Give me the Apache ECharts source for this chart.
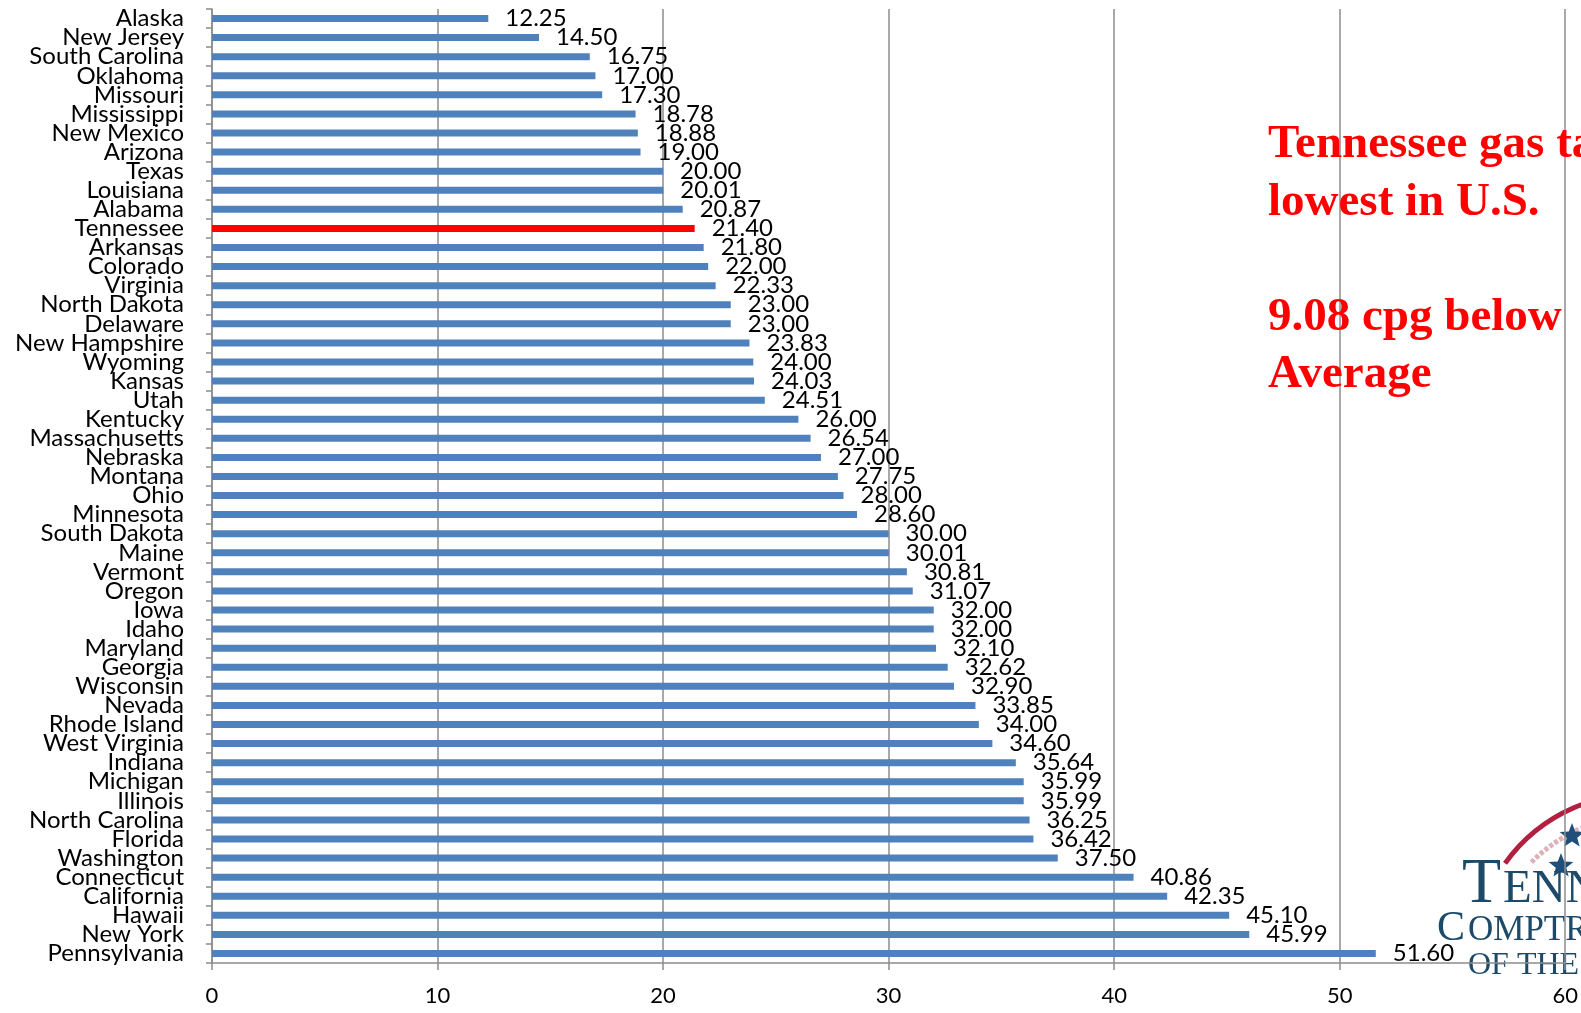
<!DOCTYPE html>
<html>
<head>
<meta charset="utf-8">
<title>State Gas Tax Rates</title>
<script src="https://cdn.jsdelivr.net/npm/echarts@6/dist/echarts.min.js"></script>
<style>
  html, body { margin: 0; padding: 0; background: #fff; }
  #chart { width: 1581px; height: 1013px; }
</style>
</head>
<body>
<div id="chart"></div>
<script>
// State gasoline tax, cents per gallon
const states = [
  'Alaska', 'New Jersey', 'South Carolina', 'Oklahoma', 'Missouri', 'Mississippi',
  'New Mexico', 'Arizona', 'Texas', 'Louisiana', 'Alabama', 'Tennessee', 'Arkansas',
  'Colorado', 'Virginia', 'North Dakota', 'Delaware', 'New Hampshire', 'Wyoming',
  'Kansas', 'Utah', 'Kentucky', 'Massachusetts', 'Nebraska', 'Montana', 'Ohio',
  'Minnesota', 'South Dakota', 'Maine', 'Vermont', 'Oregon', 'Iowa', 'Idaho',
  'Maryland', 'Georgia', 'Wisconsin', 'Nevada', 'Rhode Island', 'West Virginia',
  'Indiana', 'Michigan', 'Illinois', 'North Carolina', 'Florida', 'Washington',
  'Connecticut', 'California', 'Hawaii', 'New York', 'Pennsylvania'
];
const taxRates = [
  12.25, 14.50, 16.75, 17.00, 17.30, 18.78,
  18.88, 19.00, 20.00, 20.01, 20.87, 21.40, 21.80,
  22.00, 22.33, 23.00, 23.00, 23.83, 24.00,
  24.03, 24.51, 26.00, 26.54, 27.00, 27.75, 28.00,
  28.60, 30.00, 30.01, 30.81, 31.07, 32.00, 32.00,
  32.10, 32.62, 32.90, 33.85, 34.00, 34.60,
  35.64, 35.99, 35.99, 36.25, 36.42, 37.50,
  40.86, 42.35, 45.10, 45.99, 51.60
];
const highlightState = 'Tennessee';
const axisTicks = { min: 0, max: 60, interval: 10 };
const calloutLines = ['Tennessee gas tax', 'lowest in U.S.', '', '9.08 cpg below', 'Average'];

const BLUE = '#4F81BD';
const RED = '#FF0000';
const LOGO_INK = '#1d4a68';

const chart = echarts.init(document.getElementById('chart'), null, { renderer: 'canvas' });

// five-pointed star outline for the logo
function starPoints(cx, cy, r, r0) {
  const pts = [];
  for (let i = 0; i < 10; i++) {
    const a = -Math.PI / 2 + i * Math.PI / 5;
    const rr = i % 2 === 0 ? r : r0;
    pts.push([cx + rr * Math.cos(a), cy + rr * Math.sin(a)]);
  }
  return pts;
}

const serif = '"Liberation Serif", "DejaVu Serif", serif';

// place a text so that its baseline sits at y (top offset ~0.77 em)
function serifText(str, x, baseline, size, color, weight, z) {
  return {
    type: 'text', left: x, top: baseline - Math.round(size * 0.77), silent: true, z: z,
    style: { text: str, fill: color, font: (weight ? weight + ' ' : '') + size + 'px ' + serif }
  };
}

const calloutBaselines = [157, 215, 272, 330, 387];
const calloutText = calloutLines.map((t, i) =>
  serifText(t, 1268, calloutBaselines[i], 47, RED, 'bold', 100));

const logo = [
  {
    type: 'arc', z: -5, silent: true,
    shape: { cx: 1640, cy: 960, r: 166, startAngle: -2.52, endAngle: -1.45, clockwise: true },
    style: { stroke: '#b3203f', lineWidth: 5, fill: null }
  },
  {
    type: 'arc', z: -5, silent: true,
    shape: { cx: 1645, cy: 975, r: 160, startAngle: -2.36, endAngle: -1.45, clockwise: true },
    style: { stroke: '#dcb3ba', lineWidth: 5, fill: null, lineDash: [4, 2] }
  },
  {
    type: 'polygon', z: -5, silent: true,
    shape: { points: starPoints(1572, 836, 13, 5.5) },
    style: { fill: '#1f4f78' }
  },
  {
    type: 'polygon', z: -5, silent: true,
    shape: { points: starPoints(1561, 866, 13, 5.5) },
    style: { fill: '#1f4f78' }
  },
  serifText('T', 1462, 902, 64, LOGO_INK, '', -5),
  serifText('ENNESSEE', 1503, 902, 47, LOGO_INK, '', -5),
  serifText('C', 1437, 940, 42, LOGO_INK, '', -5),
  serifText('OMPTROLLER', 1468, 940, 35, LOGO_INK, '', -5),
  serifText('OF THE', 1468, 975, 32, LOGO_INK, '', -5)
];

const option = {
  animation: false,
  backgroundColor: '#ffffff',
  grid: { left: 212, right: 15, top: 9, bottom: 50, containLabel: false },
  xAxis: {
    type: 'value',
    min: axisTicks.min,
    max: axisTicks.max,
    interval: axisTicks.interval,
    axisLine: { show: true, lineStyle: { color: '#8c8c8c', width: 1.5 } },
    axisTick: { show: true, length: 7, lineStyle: { color: '#8c8c8c', width: 1.5 } },
    splitLine: { show: true, lineStyle: { color: '#8c8c8c', width: 1.5 } },
    axisLabel: { color: '#000', fontSize: 22, fontFamily: 'Lato', margin: 22 }
  },
  yAxis: {
    type: 'category',
    data: states,
    inverse: true,
    axisLine: { show: true, lineStyle: { color: '#8c8c8c', width: 1.5 } },
    axisTick: { show: true, length: 6, lineStyle: { color: '#8c8c8c', width: 1.5 } },
    splitLine: { show: false },
    axisLabel: { color: '#000', fontSize: 24, fontFamily: 'Lato', margin: 28, interval: 0 }
  },
  series: [{
    type: 'bar',
    barWidth: 7,
    data: taxRates.map((v, i) => ({
      value: v,
      itemStyle: { color: states[i] === highlightState ? RED : BLUE }
    })),
    label: {
      show: true,
      position: 'right',
      distance: 17,
      color: '#000',
      fontSize: 24,
      fontFamily: 'Lato',
      formatter: p => p.value.toFixed(2)
    },
    z: 3
  }],
  graphic: { elements: logo.concat(calloutText) }
};

chart.setOption(option);
</script>
</body>
</html>
